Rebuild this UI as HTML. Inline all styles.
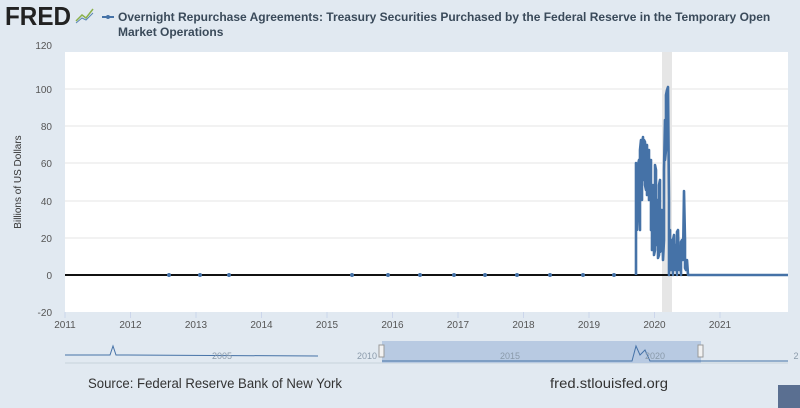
<!DOCTYPE html>
<html><head><meta charset="utf-8"><style>
body{margin:0;width:800px;height:408px;background:#e1e9f1;overflow:hidden;font-family:"Liberation Sans",sans-serif}
svg{position:absolute;left:0;top:0}
</style></head><body>
<svg width="800" height="408" xmlns="http://www.w3.org/2000/svg" font-family="Liberation Sans, sans-serif">
<rect width="800" height="408" fill="#e1e9f1"/>
<text x="5" y="25" font-size="26" font-weight="bold" fill="#222" textLength="66" lengthAdjust="spacingAndGlyphs">FRED</text>
<polyline points="76,21 82,15 86,18 93,9" fill="none" stroke="#8ab04a" stroke-width="1.5"/>
<polyline points="76,23 82,18 86,20 93,13" fill="none" stroke="#5a86b5" stroke-width="1"/>
<line x1="102" y1="17" x2="114" y2="17" stroke="#4572a7" stroke-width="2"/><circle cx="108" cy="17" r="2" fill="#4572a7"/>
<text x="118" y="21" font-size="12" font-weight="bold" fill="#3a4a5a">Overnight Repurchase Agreements: Treasury Securities Purchased by the Federal Reserve in the Temporary Open</text>
<text x="118" y="36" font-size="12" font-weight="bold" fill="#3a4a5a">Market Operations</text>
<rect x="65" y="52" width="723" height="260" fill="#fff"/>
<rect x="662" y="52" width="10" height="260" fill="#e6e6e6"/>
<g stroke="#e6e6e6" stroke-width="1">
<line x1="65" y1="89" x2="788" y2="89"/><line x1="65" y1="126" x2="788" y2="126"/><line x1="65" y1="163" x2="788" y2="163"/><line x1="65" y1="201" x2="788" y2="201"/><line x1="65" y1="238" x2="788" y2="238"/></g>
<g font-size="10" fill="#555" text-anchor="end">
<text x="52" y="49">120</text><text x="52" y="93">100</text><text x="52" y="130">80</text><text x="52" y="167">60</text><text x="52" y="205">40</text><text x="52" y="242">20</text><text x="52" y="279">0</text><text x="52" y="316">-20</text></g>
<text transform="translate(21,182) rotate(-90)" font-size="10" fill="#333" text-anchor="middle">Billions of US Dollars</text>
<g font-size="10" fill="#555" text-anchor="middle" id="xl"></g>
<g id="ticks" stroke="#ccd6eb"></g>
<line x1="65" y1="275" x2="788" y2="275" stroke="#111" stroke-width="2"/>
<path id="ser" fill="none" stroke="#4572a7" stroke-width="2.6" stroke-linejoin="round"/>
<g id="dots" fill="#4572a7"></g>
<rect x="65" y="340" width="723" height="22" fill="#e1e9f1"/>
<line x1="65" y1="363" x2="788" y2="363" stroke="#c8d2dc"/>
<rect x="382" y="341" width="319" height="22" fill="#b4c6e0" opacity="0.9"/>
<path d="M65,355 L110,355 L113,346 L116,355 L318,356" fill="none" stroke="#4572a7" stroke-width="1"/>
<path d="M382,361 L632,361 L636,346 L640,355 L645,350 L650,361 L660,361 L788,361" fill="none" stroke="#4572a7" stroke-width="1"/>
<g font-size="9" fill="#8a9aaa" text-anchor="middle"><text x="222" y="359">2005</text><text x="367" y="359">2010</text><text x="510" y="359">2015</text><text x="655" y="359">2020</text><text x="796" y="359">2</text></g>
<rect x="379" y="345" width="5" height="12" fill="#f2f2f2" stroke="#999"/>
<rect x="698" y="345" width="5" height="12" fill="#f2f2f2" stroke="#999"/>
<text x="88" y="388" font-size="14" fill="#333" textLength="254" lengthAdjust="spacingAndGlyphs">Source: Federal Reserve Bank of New York</text>
<text x="550" y="388" font-size="14" fill="#333" textLength="118" lengthAdjust="spacingAndGlyphs">fred.stlouisfed.org</text>
<rect x="778" y="385" width="22" height="23" fill="#5a6f91"/>
</svg>
<script>
var X=function(y){return 65+65.5*(y-2011)};
var xl=document.getElementById('xl'),tk=document.getElementById('ticks'),ns='http://www.w3.org/2000/svg';
for(var y=2011;y<=2021;y++){var t=document.createElementNS(ns,'text');t.setAttribute('x',X(y));t.setAttribute('y',328);t.textContent=y;xl.appendChild(t);
var l=document.createElementNS(ns,'line');l.setAttribute('x1',X(y));l.setAttribute('x2',X(y));l.setAttribute('y1',312);l.setAttribute('y2',318);tk.appendChild(l);}
var pts=[[636,275],[636,248],[636,163],[637,230],[638,200],[638,165],[639,160],[640,230],[640,150],[641,140],[641,190],[642,200],[642,145],[643,137],[643,180],[644,170],[644,140],[645,142],[645,185],[646,190],[646,148],[647,145],[647,195],[648,180],[648,150],[649,150],[649,200],[650,195],[650,160],[651,160],[651,230],[652,200],[652,250],[653,240],[653,185],[654,190],[654,255],[655,250],[655,165],[656,170],[656,245],[657,240],[657,200],[658,200],[658,258],[659,255],[659,185],[660,180],[660,252],[661,250],[661,210],[662,210],[663,260],[664,240],[664,170],[665,120],[665,160],[666,150],[666,95],[667,90],[668,87],[669,200],[669,275],[670,230],[670,265],[671,270],[671,240],[672,240],[673,275],[673,240],[674,235],[675,270],[675,245],[676,245],[677,275],[677,232],[678,230],[679,270],[679,250],[680,250],[681,275],[681,242],[682,240],[683,260],[684,191],[685,240],[685,268],[686,270],[687,260],[688,275],[788,275]];
var d='M'+pts.map(function(p){return p.join(',')}).join(' L');document.getElementById('ser').setAttribute('d',d);
var dots=document.getElementById('dots');
[169,200,229,352,388,420,454,485,517,550,583,614].forEach(function(x){var c=document.createElementNS(ns,'circle');c.setAttribute('cx',x);c.setAttribute('cy',275);c.setAttribute('r',2);dots.appendChild(c);});
</script>
</body></html>
